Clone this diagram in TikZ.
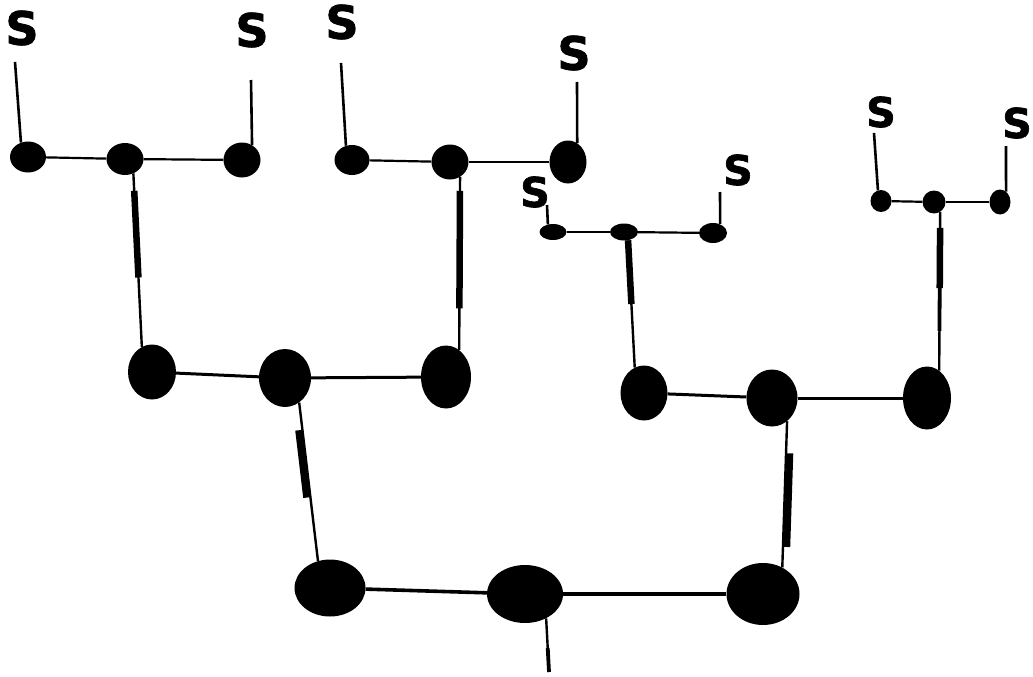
\documentclass[tikz,border=0pt]{standalone}
\usepackage{fontspec}
\newfontfamily\sfont{DejaVu Sans Bold}[FakeBold=1.6]
\usetikzlibrary{shapes.geometric,calc}
\begin{document}
\begin{tikzpicture}[x=1pt,y=-1pt,
  dot/.style={ellipse,fill=black,draw=none,inner sep=0pt},
  lab/.style={font=\sfont\fontsize{46}{46}\selectfont,inner sep=0pt},
  labs/.style={font=\sfont\fontsize{41}{41}\selectfont,inner sep=0pt},
  slink/.style={line width=2.6pt},
  tlink/.style={line width=2.2pt},
  mlink/.style={line width=3pt},
  blink/.style={line width=3.6pt},
  vlink/.style={line width=2.4pt},
  hand/.style={line width=6.5pt},
  handm/.style={line width=3.8pt}]
\useasboundingbox (0,0) rectangle (1033,677);

% top level nodes
\node[dot,minimum width=36pt,minimum height=31pt] (n1) at (28,157) {};
\node[dot,minimum width=37pt,minimum height=32pt] (n2) at (125,159) {};
\node[dot,minimum width=37pt,minimum height=35pt] (n3) at (242,160) {};
\node[dot,minimum width=35pt,minimum height=30pt] (n4) at (352,160) {};
\node[dot,minimum width=37pt,minimum height=35pt] (n5) at (450,162) {};
\node[dot,minimum width=37pt,minimum height=43pt] (n6) at (568,162) {};
\node[dot,minimum width=27pt,minimum height=16pt] (n7) at (553,232) {};
\node[dot,minimum width=28pt,minimum height=17pt] (n8) at (624,232) {};
\node[dot,minimum width=28pt,minimum height=20pt] (n9) at (713,233) {};
\node[dot,minimum width=21pt,minimum height=22pt] (n10) at (881,201) {};
\node[dot,minimum width=23pt,minimum height=23pt] (n11) at (934,202) {};
\node[dot,minimum width=21pt,minimum height=25pt] (n12) at (1000,202) {};
% middle level
\node[dot,minimum width=48pt,minimum height=55pt] (m1) at (152,372) {};
\node[dot,minimum width=52pt,minimum height=58pt] (m2) at (285,378) {};
\node[dot,minimum width=50pt,minimum height=63pt] (m3) at (446,377) {};
\node[dot,minimum width=47pt,minimum height=55pt] (m4) at (644,393) {};
\node[dot,minimum width=51pt,minimum height=57pt] (m5) at (772,398) {};
\node[dot,minimum width=48pt,minimum height=63pt] (m6) at (927,398) {};
% bottom level
\node[dot,minimum width=71pt,minimum height=57pt] (b1) at (330,588) {};
\node[dot,minimum width=76pt,minimum height=58pt] (b2) at (525,594) {};
\node[dot,minimum width=73pt,minimum height=62pt] (b3) at (763,594) {};
\coordinate (root) at (549,672);

% labels
\node[lab] (s1) at (22,28) {S};
\node[lab] (s2) at (252,30) {S};
\node[lab] (s3) at (342,22) {S};
\node[lab] (s4) at (574,53) {S};
\node[labs] (s5) at (535,192) {S};
\node[labs] (s6) at (738,170) {S};
\node[labs] (s7) at (881,112) {S};
\node[labs] (s8) at (1017,123) {S};

% label stems
\draw[slink] ([shift={(-7,34)}]s1.center) -- (n1.116);
\draw[slink] ([shift={(-1,50)}]s2.center) -- (n3.56);
\draw[slink] ([shift={(-1,41)}]s3.center) -- (n4.113);
\draw[slink] ([shift={(3,29)}]s4.center) -- (n6.64);
\draw[slink] ([shift={(12,13)}]s5.center) -- (n7.124);
\draw[slink] ([shift={(-18,22)}]s6.center) -- (n9.51);
\draw[slink] ([shift={(-7,21)}]s7.center) -- (n10.106);
\draw[slink] ([shift={(-11,23)}]s8.center) -- (n12.60);

% horizontal links
\draw[tlink] (n1) -- (n2);
\draw[tlink] (n2) -- (n3);
\draw[tlink] (n4) -- (n5);
\draw[tlink] (n5) -- (n6);
\draw[tlink] (n7) -- (n8);
\draw[tlink] (n8) -- (n9);
\draw[tlink] (n10) -- (n11);
\draw[tlink] (n11) -- (n12);
\draw[mlink] (m1) -- (m2);
\draw[mlink] (m2) -- (m3);
\draw[mlink] (m4) -- (m5);
\draw[mlink] (m5) -- (m6);
\draw[blink] (b1) -- (b2);
\draw[blink] (b2) -- (b3);

% vertical links with hand-drawn thick parts
\draw[vlink] (n2.-60) -- (m1.112);
\draw[hand] ($(n2.-60)!0.1!(m1.112)$) -- ($(n2.-60)!0.6!(m1.112)$);
\draw[vlink] (n5.-56) -- (m3.64);
\draw[hand] ($(n5.-56)!0.08!(m3.64)$) -- ($(n5.-56)!0.76!(m3.64)$);
\draw[vlink] (n8.-64) -- (m4.110);
\draw[hand] ($(n8.-64)!0!(m4.110)$) -- ($(n8.-64)!0.5!(m4.110)$);
\draw[vlink] (n11.-58) -- (m6.66);
\draw[hand] ($(n11.-58)!0.1!(m6.66)$) -- ($(n11.-58)!0.48!(m6.66)$);
\draw[handm] ($(n11.-58)!0.48!(m6.66)$) -- ($(n11.-58)!0.75!(m6.66)$);
\draw[vlink] (m2.-60) -- (b1.114);
\draw[hand] ([xshift=-4pt]$(m2.-60)!0.175!(b1.114)$) -- ([xshift=-4pt]$(m2.-60)!0.6!(b1.114)$);
\draw[vlink] (m5.-57) -- (b3.54);
\draw[hand] ([xshift=4pt]$(m5.-57)!0.22!(b3.54)$) -- ([xshift=4pt]$(m5.-57)!0.86!(b3.54)$);
\draw[vlink] (b2.-49) -- (root);
\draw[handm] ($(b2.-49)!0.55!(root)$) -- (root);
\end{tikzpicture}
\end{document}
